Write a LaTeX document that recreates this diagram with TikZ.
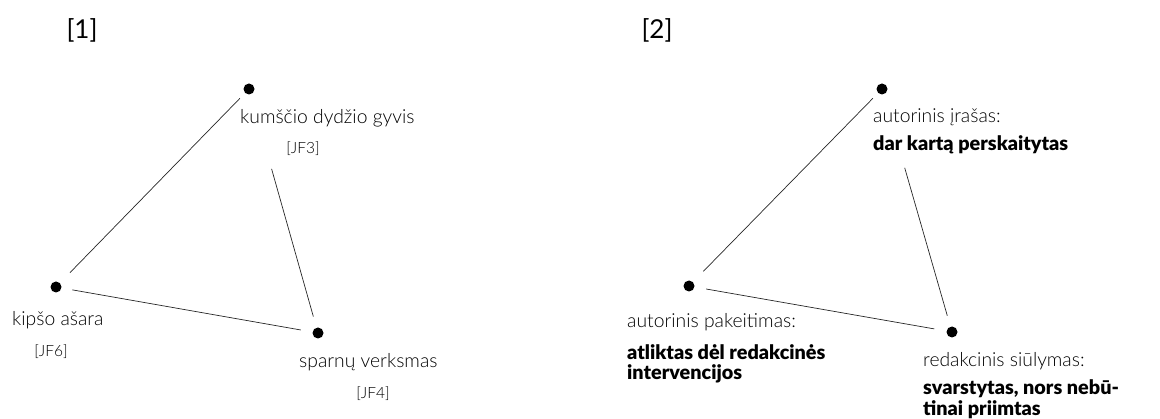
\documentclass[tikz,border=0pt]{standalone}
\usepackage{fontspec}
\setmainfont{Lato}[UprightFont = * Light, BoldFont = * Black]
\newfontfamily\panelfont{Lato}
\begin{document}
\begin{tikzpicture}[x=1pt, y=-1pt,
  dot/.style={circle, fill=black, inner sep=0pt, minimum size=11pt},
  link/.style={draw=black!85, line width=0.7pt},
  lbl/.style={anchor=base west, inner sep=0pt, font=\fontsize{19.3}{22}\selectfont},
  note/.style={anchor=base west, inner sep=0pt, font=\fontsize{19.8}{22}\selectfont\bfseries},
  ref/.style={anchor=center, inner sep=0pt, font=\fontsize{15.5}{17}\selectfont},
  panel/.style={anchor=center, inner sep=0pt, font=\panelfont\fontsize{26}{30}\selectfont}]
  \useasboundingbox (0,0) rectangle (1160,419);

  % ---- panel 1 ----
  \node[panel] (p1) at (82,30) {[1]};
  \node[dot] (a1) at (249,89) {};
  \node[dot] (b1) at (56,287) {};
  \node[dot] (c1) at (318,333) {};

  \node[lbl] (la1) at (240,123.5) {kumščio dydžio gyvis};
  \node[ref] (ra1) at (303,149) {[JF3]};
  \node[lbl] (lb1) at (12,326) {kipšo ašara};
  \node[ref] (rb1) at (51,352) {[JF6]};
  \node[lbl] (lc1) at (299,367.5) {sparnų verksmas};
  \node[ref] (rc1) at (373,394) {[JF4]};

  \draw[link, shorten <=13pt, shorten >=20pt] (a1.center) -- (b1.center);
  \draw[link, shorten <=83pt, shorten >=17pt] (a1.center) -- (c1.center);
  \draw[link, shorten <=16.5pt, shorten >=17.5pt] (b1.center) -- (c1.center);

  % ---- panel 2 ----
  \node[panel] (p2) at (657,30) {[2]};
  \node[dot] (a2) at (882,89) {};
  \node[dot] (b2) at (689,286) {};
  \node[dot] (c2) at (952,332) {};

  \node[lbl] (la2) at (873,123) {autorinis įrašas:};
  \node[note] (da2) at (873,150.5) {dar kartą perskaitytas};
  \node[lbl] (lb2) at (627,327.5) {autorinis pakeitimas:};
  \node[note] (db2) at (627,359.5) {atliktas dėl redakcinės};
  \node[note] (eb2) at (627,380) {intervencijos};
  \node[lbl] (lc2) at (923,367) {redakcinis siūlymas:};
  \node[note] (dc2) at (923,395) {svarstytas, nors nebū-};
  \node[note] (ec2) at (923,415.5) {tinai priimtas};

  \draw[link, shorten <=13pt, shorten >=20.5pt] (a2.center) -- (b2.center);
  \draw[link, shorten <=82pt, shorten >=17pt] (a2.center) -- (c2.center);
  \draw[link, shorten <=17.5pt, shorten >=18pt] (b2.center) -- (c2.center);
\end{tikzpicture}
\end{document}
